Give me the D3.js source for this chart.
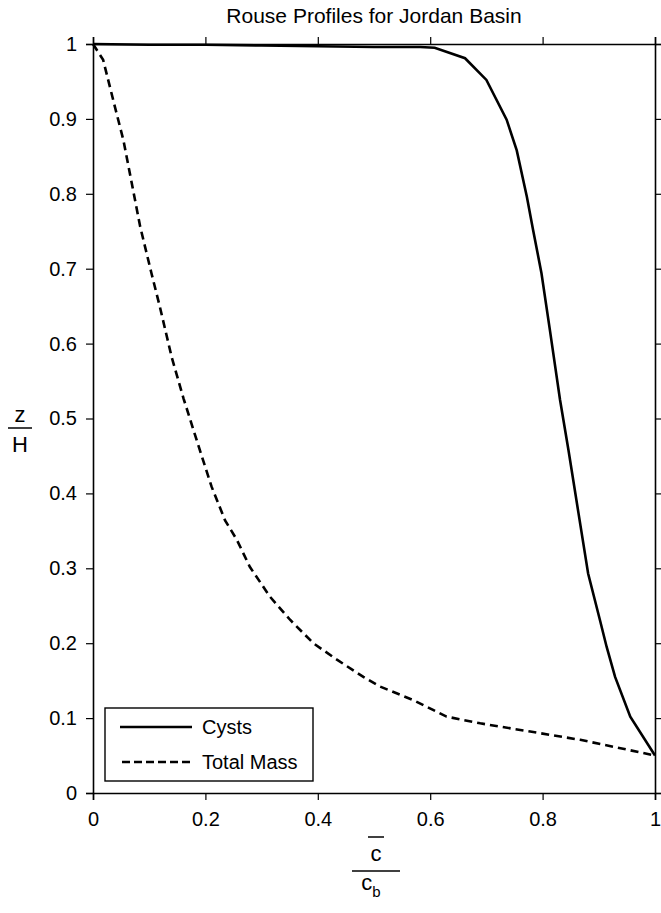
<!DOCTYPE html>
<html>
<head>
<meta charset="utf-8">
<script src="https://cdn.jsdelivr.net/npm/d3@7"></script>
<style>
  body { margin: 0; background: #fff; }
  text { font-family: "Liberation Sans", Arial, Helvetica, sans-serif; fill: #000; }
</style>
</head>
<body>
<div class="chart"></div>
<script>
// values
var cystsX = [0, 0.1, 0.2, 0.3, 0.4, 0.5, 0.582, 0.608, 0.662, 0.700, 0.736, 0.754, 0.772, 0.783, 0.798, 0.813, 0.831, 0.846, 0.864, 0.881, 0.902, 0.914, 0.929, 0.956, 1];
var cystsY = [1, 0.999, 0.999, 0.998, 0.997, 0.996, 0.996, 0.995, 0.981, 0.952, 0.899, 0.858, 0.796, 0.752, 0.694, 0.618, 0.525, 0.458, 0.373, 0.293, 0.231, 0.195, 0.155, 0.102, 0.05];

var massX = [0, 0.018, 0.039, 0.054, 0.069, 0.084, 0.104, 0.119, 0.140, 0.161, 0.190, 0.211, 0.235, 0.256, 0.279, 0.315, 0.351, 0.392, 0.434, 0.481, 0.511, 0.570, 0.629, 0.689, 0.778, 0.867, 0.956, 1];
var massY = [1, 0.979, 0.916, 0.872, 0.814, 0.756, 0.694, 0.649, 0.582, 0.527, 0.458, 0.409, 0.364, 0.338, 0.302, 0.262, 0.231, 0.200, 0.178, 0.155, 0.142, 0.124, 0.102, 0.093, 0.082, 0.071, 0.057, 0.05];

var seriesNames = ["Cysts", "Total Mass"];
var xTicks = [0, 0.2, 0.4, 0.6, 0.8, 1];
var xTickLabels = ["0", "0.2", "0.4", "0.6", "0.8", "1"];
var yTicks = [0, 0.1, 0.2, 0.3, 0.4, 0.5, 0.6, 0.7, 0.8, 0.9, 1];
var yTickLabels = ["0", "0.1", "0.2", "0.3", "0.4", "0.5", "0.6", "0.7", "0.8", "0.9", "1"];

var W = 661, H = 913;
var margin = { top: 44, left: 93, right: 6, bottom: 120 };
var width = W - margin.left - margin.right;   // 562
var height = H - margin.top - margin.bottom;  // 749

var svg = d3.select(".chart")
  .append("svg")
    .attr("width", W)
    .attr("height", H);

var g = svg.append("g")
    .attr("transform", "translate(" + margin.left + "," + margin.top + ")");

var x = d3.scaleLinear().domain([0, 1]).range([0, width]);
var y = d3.scaleLinear().domain([0, 1]).range([height, 0]);

function styleAxis(sel) {
  sel.selectAll(".domain").attr("stroke", "#000").attr("stroke-width", 1.6);
  sel.selectAll(".tick line").attr("stroke", "#000").attr("stroke-width", 1.2);
  sel.selectAll("text").style("font-size", "20px").attr("fill", "#000");
}

// bottom / left axes with labels
g.append("g")
    .attr("transform", "translate(0," + height + ")")
    .call(d3.axisBottom(x).tickValues(xTicks).tickSizeOuter(0).tickSize(7).tickPadding(12)
      .tickFormat(function(d, i) { return xTickLabels[i]; }))
    .call(styleAxis);

g.append("g")
    .call(d3.axisLeft(y).tickValues(yTicks).tickSizeOuter(0).tickSize(7).tickPadding(9)
      .tickFormat(function(d, i) { return yTickLabels[i]; }))
    .call(styleAxis);

// box: top / right axes, ticks only
g.append("g")
    .call(d3.axisTop(x).tickValues(xTicks).tickSizeOuter(0).tickSize(7).tickFormat(""))
    .call(styleAxis);

g.append("g")
    .attr("transform", "translate(" + width + ",0)")
    .call(d3.axisRight(y).tickValues(yTicks).tickSizeOuter(0).tickSize(7).tickFormat(""))
    .call(styleAxis);

var line = d3.line()
    .x(function(d) { return x(d[0]); })
    .y(function(d) { return y(d[1]); });

var cysts = d3.zip(cystsX, cystsY);
var mass = d3.zip(massX, massY);

g.append("path")
    .datum(mass)
    .attr("fill", "none")
    .attr("stroke", "#000")
    .attr("stroke-width", 2.6)
    .attr("stroke-dasharray", "8,5")
    .attr("d", line);

g.append("path")
    .datum(cysts)
    .attr("fill", "none")
    .attr("stroke", "#000")
    .attr("stroke-width", 2.6)
    .attr("d", line);

// title
svg.append("text")
    .attr("x", margin.left + width / 2)
    .attr("y", 23)
    .attr("text-anchor", "middle")
    .style("font-size", "21px")
    .text("Rouse Profiles for Jordan Basin");

// y label: z over H
var yl = svg.append("g").attr("transform", "translate(20,428)");
yl.append("text").attr("y", -6).attr("text-anchor", "middle").style("font-size", "22px").text("z");
yl.append("line").attr("x1", -12).attr("x2", 12).attr("stroke", "#000").attr("stroke-width", 1.5);
yl.append("text").attr("y", 24).attr("text-anchor", "middle").style("font-size", "22px").text("H");

// x label: c-bar over c_b
var xl = svg.append("g").attr("transform", "translate(" + (margin.left + width / 2 + 2) + ",871)");
xl.append("line").attr("x1", -8).attr("x2", 8).attr("y1", -34).attr("y2", -34).attr("stroke", "#000").attr("stroke-width", 1.5);
xl.append("text").attr("y", -10).attr("text-anchor", "middle").style("font-size", "22px").text("c");
xl.append("line").attr("x1", -24).attr("x2", 24).attr("stroke", "#000").attr("stroke-width", 1.5);
var cb = xl.append("text").attr("y", 19).attr("x", -5).attr("text-anchor", "middle").style("font-size", "22px");
cb.append("tspan").text("c");
cb.append("tspan").attr("dy", 7).style("font-size", "15px").text("b");

// legend
var legend = svg.append("g").attr("transform", "translate(105,708)");
legend.append("rect")
    .attr("width", 208).attr("height", 73)
    .attr("fill", "#fff").attr("stroke", "#000").attr("stroke-width", 1.4);

var legendItems = legend.selectAll(".item")
  .data(seriesNames)
  .enter().append("g")
    .attr("class", "item")
    .attr("transform", function(d, i) { return "translate(0," + (19 + i * 35) + ")"; });

legendItems.append("line")
    .attr("x1", function(d, i) { return i ? 17 : 15; })
    .attr("x2", 87)
    .attr("stroke", "#000")
    .attr("stroke-width", 2.4)
    .attr("stroke-dasharray", function(d, i) { return i ? "8,4" : null; });

legendItems.append("text")
    .attr("x", 97)
    .attr("dy", "0.35em")
    .style("font-size", "20px")
    .text(function(d) { return d; });
</script>
</body>
</html>
